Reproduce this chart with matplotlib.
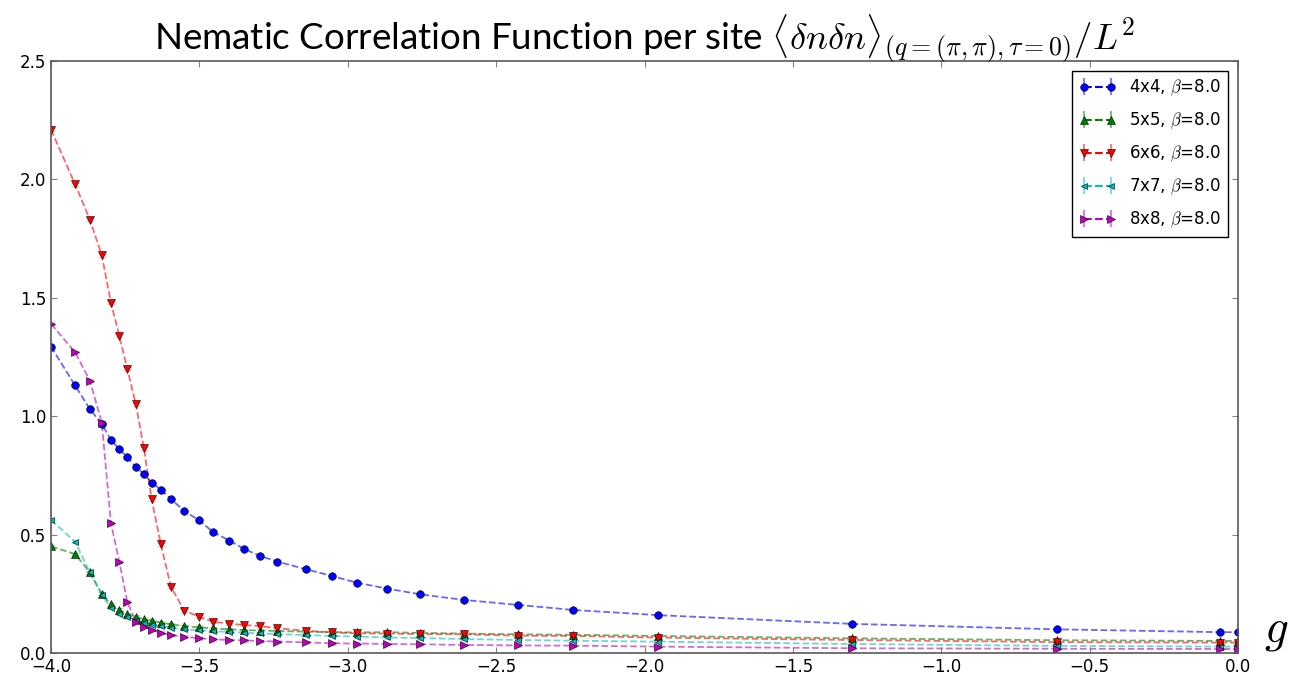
import numpy as np
import matplotlib.pyplot as plt

plt.rcParams['mathtext.fontset'] = 'cm'

# coupling values g (same grid for every lattice size)
g = [-4.0, -3.919, -3.869, -3.829, -3.798, -3.770, -3.743, -3.714, -3.687, -3.661,
     -3.630, -3.596, -3.551, -3.501, -3.453, -3.399, -3.350, -3.296, -3.237, -3.142,
     -3.052, -2.970, -2.867, -2.757, -2.608, -2.425, -2.242, -1.955, -1.301, -0.610,
     -0.061, 0.0]

corr_4x4 = [1.294, 1.13, 1.03, 0.967, 0.90, 0.862, 0.827, 0.785, 0.756, 0.72,
            0.69, 0.65, 0.60, 0.56, 0.51, 0.475, 0.44, 0.41, 0.386, 0.354,
            0.325, 0.297, 0.272, 0.248, 0.224, 0.203, 0.182, 0.16, 0.123, 0.10,
            0.088, 0.088]
corr_5x5 = [0.45, 0.418, 0.34, 0.25, 0.205, 0.182, 0.163, 0.153, 0.142, 0.136,
            0.128, 0.121, 0.114, 0.108, 0.104, 0.10, 0.097, 0.095, 0.093, 0.09,
            0.088, 0.087, 0.088, 0.085, 0.082, 0.079, 0.077, 0.072, 0.062, 0.054,
            0.051, 0.051]
corr_6x6 = [2.21, 1.98, 1.83, 1.68, 1.48, 1.34, 1.20, 1.05, 0.865, 0.65,
            0.46, 0.28, 0.179, 0.153, 0.132, 0.124, 0.118, 0.114, 0.104, 0.094,
            0.087, 0.083, 0.082, 0.080, 0.079, 0.073, 0.072, 0.065, 0.055, 0.046,
            0.044, 0.044]
corr_7x7 = [0.562, 0.47, 0.34, 0.245, 0.19, 0.165, 0.15, 0.135, 0.125, 0.118,
            0.112, 0.107, 0.10, 0.096, 0.092, 0.089, 0.086, 0.083, 0.08, 0.076,
            0.072, 0.069, 0.066, 0.063, 0.059, 0.055, 0.052, 0.048, 0.038, 0.030,
            0.027, 0.027]
corr_8x8 = [1.39, 1.27, 1.15, 0.973, 0.548, 0.386, 0.217, 0.13, 0.111, 0.097,
            0.086, 0.076, 0.069, 0.062, 0.058, 0.055, 0.053, 0.051, 0.048, 0.045,
            0.041, 0.04, 0.038, 0.037, 0.034, 0.032, 0.031, 0.027, 0.02, 0.018,
            0.017, 0.017]

sizes = ['4x4', '5x5', '6x6', '7x7', '8x8']
beta = 8.0
series = [corr_4x4, corr_5x5, corr_6x6, corr_7x7, corr_8x8]
colors = ['b', 'g', 'r', 'c', 'm']
markers = ['o', '^', 'v', '<', '>']
msize = [5.5, 5.5, 6, 5, 6]

fig = plt.figure(figsize=(12.95, 6.81), dpi=100)
ax = fig.add_axes([0.0394, 0.0411, 0.9166, 0.8693])

handles = []
for L, y, c, m, ms in zip(sizes, series, colors, markers, msize):
    y = np.array(y)
    lab = L + r', $\beta$=' + f'{beta:.1f}'
    # lighter dashed connecting line drawn underneath the markers
    ax.plot(g, y, '--', color=c, alpha=0.6, lw=1.3, zorder=1)
    eb = ax.errorbar(g, y, yerr=0.006 * np.ones_like(y), fmt=m, color=c,
                     ecolor=c, elinewidth=1, capsize=3, markersize=ms,
                     markeredgecolor='k', markeredgewidth=0.4, zorder=2)
    for art in eb[1] + eb[2]:
        art.set_alpha(0.5)
    # legend handle: two markers joined by the dashed line
    h = ax.errorbar([], [], yerr=[], fmt=m + '--', color=c, ecolor=c,
                    capsize=3, markersize=ms, markeredgecolor='k',
                    markeredgewidth=0.4, label=lab)
    for art in h[1] + h[2]:
        art.set_alpha(0.5)
    handles.append(h)

ax.set_xlim(-4.0, 0.0)
ax.set_ylim(0.0, 2.5)
ax.set_xticks(np.arange(-4.0, 0.01, 0.5))
ax.set_yticks(np.arange(0.0, 2.51, 0.5))
ax.tick_params(direction='in', top=True, right=True, labelsize=12, length=4,
               color='0.5')
for s in ax.spines.values():
    s.set_color('0.35')
    s.set_linewidth(1.2)

leg = ax.legend(handles=handles, loc='upper right', numpoints=2, fontsize=12,
                fancybox=False, framealpha=1, edgecolor='k',
                borderaxespad=0.6, labelspacing=0.75, handlelength=2.2)
leg.get_frame().set_linewidth(1.0)

ax.set_title(r'Nematic Correlation Function per site $\langle\delta n\delta n\rangle_{(q=(\pi,\pi),\tau=0)}/L^2$',
             fontsize=26.5, family='Lato', pad=8)
ax.text(1.022, 0.0, r'$g$', transform=ax.transAxes, fontsize=34,
        ha='left', va='bottom')

fig.savefig('out.png', dpi=100, facecolor='white')
